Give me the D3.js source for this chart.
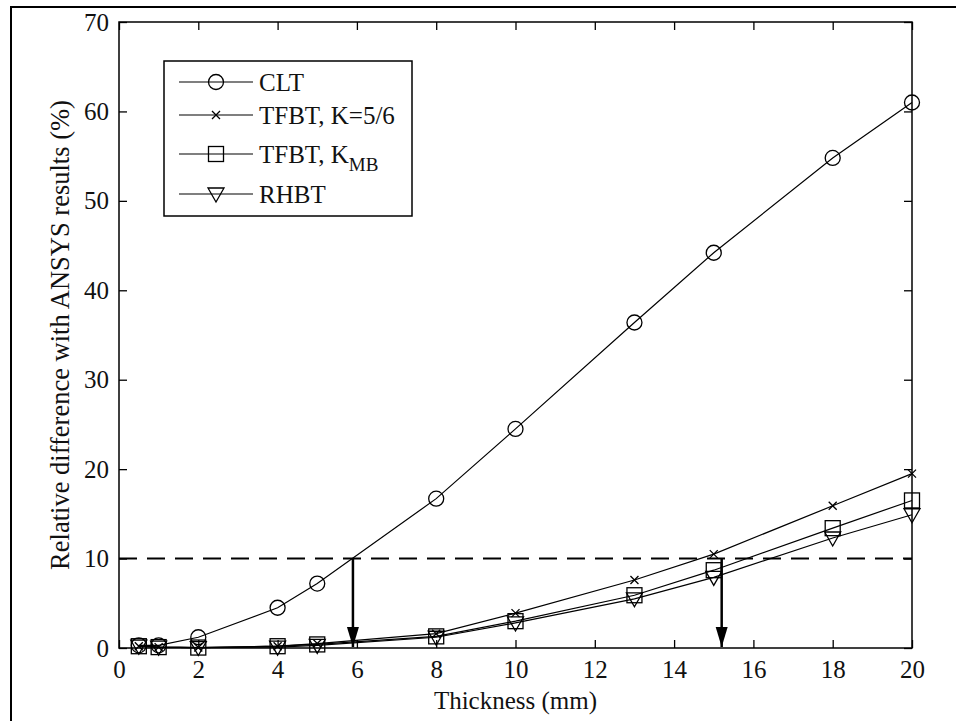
<!DOCTYPE html>
<html>
<head>
<meta charset="utf-8">
<script src="https://cdn.jsdelivr.net/npm/d3@7"></script>
<style>
  html, body { margin: 0; padding: 0; background: #fff; }
  text { font-family: "Liberation Serif", "DejaVu Serif", serif; fill: #111; }
</style>
</head>
<body>
<svg id="chart"></svg>
<script>
// thickness values (mm)
const thickness = [0.5, 1, 2, 4, 5, 8, 10, 13, 15, 18, 20];
// relative difference (%)
const clt    = [0.3, 0.3, 1.2, 4.5, 7.2, 16.7, 24.5, 36.4, 44.2, 54.8, 61.0];
const tfbt56 = [0.2, 0.1, 0.05, 0.2, 0.5, 1.6, 3.9, 7.6, 10.5, 15.9, 19.5];
const tfbtMB = [0.2, 0.1, 0.05, 0.2, 0.4, 1.3, 3.0, 5.9, 8.7, 13.4, 16.5];
const rhbt   = [0.2, 0.1, 0.05, 0.1, 0.3, 1.2, 2.8, 5.5, 7.9, 12.3, 14.9];
const xTicks = [0, 2, 4, 6, 8, 10, 12, 14, 16, 18, 20];
const yTicks = [0, 10, 20, 30, 40, 50, 60, 70];
const threshold = 10;
const arrowsAt = [5.9, 15.2];

const width = 956, height = 721;
const margin = { top: 22, right: 44, bottom: 73, left: 119 };

const svg = d3.select("#chart").attr("width", width).attr("height", height);

// outer frame of the figure
svg.append("rect")
   .attr("x", 11).attr("y", 7)
   .attr("width", 1000).attr("height", 800)
   .attr("fill", "none").attr("stroke", "#000").attr("stroke-width", 2);

const x = d3.scaleLinear().domain([0, 20]).range([margin.left, width - margin.right]);
const y = d3.scaleLinear().domain([0, 70]).range([height - margin.bottom, margin.top]);

// axes with inward ticks on all four sides
const tick = 8;
function styleAxis(g) {
    g.select(".domain").remove();
    g.selectAll("line").attr("stroke", "#000").attr("stroke-width", 1.3);
    g.selectAll("text").style("font-size", "25px").style("font-family", "Liberation Serif");
}
svg.append("g")
   .attr("transform", `translate(0,${y(0)})`)
   .call(d3.axisBottom(x).tickValues(xTicks).tickSizeInner(-tick).tickSizeOuter(0).tickPadding(12))
   .call(styleAxis);
svg.append("g")
   .attr("transform", `translate(0,${y(70)})`)
   .call(d3.axisTop(x).tickValues(xTicks).tickSizeInner(-tick).tickSizeOuter(0).tickFormat(""))
   .call(styleAxis);
svg.append("g")
   .attr("transform", `translate(${x(0)},0)`)
   .call(d3.axisLeft(y).tickValues(yTicks).tickSizeInner(-tick).tickSizeOuter(0).tickPadding(10))
   .call(styleAxis);
svg.append("g")
   .attr("transform", `translate(${x(20)},0)`)
   .call(d3.axisRight(y).tickValues(yTicks).tickSizeInner(-tick).tickSizeOuter(0).tickFormat(""))
   .call(styleAxis);

// plot box
svg.append("rect")
   .attr("x", x(0)).attr("y", y(70))
   .attr("width", x(20) - x(0)).attr("height", y(0) - y(70))
   .attr("fill", "none").attr("stroke", "#000").attr("stroke-width", 1.5);

// axis titles
svg.append("text")
   .attr("x", (x(0) + x(20)) / 2).attr("y", 709)
   .attr("text-anchor", "middle")
   .style("font-size", "25px")
   .text("Thickness (mm)");
svg.append("text")
   .attr("transform", `translate(69,${(y(0) + y(70)) / 2}) rotate(-90)`)
   .attr("text-anchor", "middle")
   .style("font-size", "26.5px")
   .text("Relative difference with ANSYS results (%)");

// 10% threshold line
svg.append("line")
   .attr("x1", x(0)).attr("x2", x(20))
   .attr("y1", y(threshold)).attr("y2", y(threshold))
   .attr("stroke", "#000").attr("stroke-width", 2)
   .attr("stroke-dasharray", "18,10");

// arrows down to the thickness axis
arrowsAt.forEach(t => {
    svg.append("line")
       .attr("x1", x(t)).attr("x2", x(t))
       .attr("y1", y(threshold)).attr("y2", y(0) - 1)
       .attr("stroke", "#000").attr("stroke-width", 2.5);
    svg.append("path")
       .attr("d", `M${x(t) - 6},${y(0) - 21} L${x(t) + 6},${y(0) - 21} L${x(t)},${y(0) - 1} Z`)
       .attr("fill", "#000");
});

// markers
function drawMarker(g, type, cx, cy) {
    const sw = 1.3;
    if (type === "circle") {
        g.append("circle").attr("cx", cx).attr("cy", cy).attr("r", 7.5)
         .attr("fill", "none").attr("stroke", "#000").attr("stroke-width", sw);
    } else if (type === "square") {
        g.append("rect").attr("x", cx - 7.5).attr("y", cy - 7.5).attr("width", 15).attr("height", 15)
         .attr("fill", "none").attr("stroke", "#000").attr("stroke-width", sw);
    } else if (type === "triangle") {
        g.append("path").attr("d", `M${cx - 8},${cy - 6} L${cx + 8},${cy - 6} L${cx},${cy + 8} Z`)
         .attr("fill", "none").attr("stroke", "#000").attr("stroke-width", sw);
    } else if (type === "cross") {
        g.append("path").attr("d", `M${cx - 4},${cy - 4} L${cx + 4},${cy + 4} M${cx - 4},${cy + 4} L${cx + 4},${cy - 4}`)
         .attr("fill", "none").attr("stroke", "#000").attr("stroke-width", sw);
    }
}

const series = [
    { name: "CLT", values: clt, marker: "circle" },
    { name: "TFBT, K=5/6", values: tfbt56, marker: "cross" },
    { name: "TFBT, K", sub: "MB", values: tfbtMB, marker: "square" },
    { name: "RHBT", values: rhbt, marker: "triangle" }
];

const line = d3.line().x(d => x(d[0])).y(d => y(d[1]));

series.forEach(s => {
    const pts = thickness.map((t, i) => [t, s.values[i]]);
    const g = svg.append("g");
    g.append("path")
     .attr("d", line(pts))
     .attr("fill", "none").attr("stroke", "#000").attr("stroke-width", 1.2);
    pts.forEach(p => drawMarker(g, s.marker, x(p[0]), y(p[1])));
});

// legend
const legend = svg.append("g").attr("transform", "translate(164,61)");
legend.append("rect")
   .attr("width", 248).attr("height", 155)
   .attr("fill", "#fff").attr("stroke", "#000").attr("stroke-width", 1.5);
const rowY = [21, 54, 93, 133];
series.forEach((s, i) => {
    const ry = rowY[i];
    legend.append("line")
       .attr("x1", 15).attr("x2", 89).attr("y1", ry).attr("y2", ry)
       .attr("stroke", "#000").attr("stroke-width", 1.2);
    drawMarker(legend, s.marker, 52, ry);
    const t = legend.append("text")
       .attr("x", 95).attr("y", ry + 9)
       .style("font-size", "25px")
       .text(s.name);
    if (s.sub) {
        t.append("tspan").attr("dy", 8).style("font-size", "19px").text(s.sub);
    }
});
</script>
</body>
</html>
